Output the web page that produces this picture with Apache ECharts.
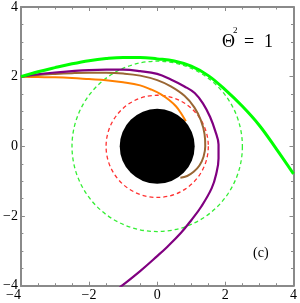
<!DOCTYPE html>
<html><head><meta charset="utf-8">
<script src="https://cdn.jsdelivr.net/npm/echarts@6/dist/echarts.min.js"></script>
<style>html,body{margin:0;padding:0;background:#fff}#c{width:300px;height:303px}</style>
</head><body><div id="c"></div>
<script>
// Axis ticks
const xTicks = [-4, -2, 0, 2, 4];
const yTicks = [-4, -2, 0, 2, 4];
// Circles: [cx, cy, radius]
const diskCircle = [[0, 0, 1.1]];
const photonCircle = [[0, 0, 1.5]];
const outerCircle = [[0, 0, 2.5]];
// Trajectories [x, y]
const greenPath = [[-4,2.0],[-3.5,2.14],[-3,2.26],[-2.5,2.37],[-2,2.46],[-1.5,2.52],[-1,2.55],[-0.5,2.55],[0,2.51],[0.5,2.45],[1,2.3],[1.5,2.03],[2,1.62],[2.5,1.15],[3,0.6],[3.5,-0.08],[4,-0.79]];
const purplePath = [[-4,2],[-3.5,2.07],[-3,2.12],[-2.5,2.16],[-2,2.19],[-1.5,2.2],[-1,2.2],[-0.5,2.16],[0,2.08],[0.4,1.92],[0.8,1.72],[1.1,1.53],[1.35,1.22],[1.55,0.85],[1.7,0.45],[1.8,0.05],[1.8,-0.35],[1.73,-0.8],[1.6,-1.2],[1.3,-1.72],[1.0,-2.12],[0.7,-2.48],[0.3,-2.88],[0,-3.15],[-0.5,-3.58],[-1.1,-4.05]];
const brownPath = [[-4,2],[-3.5,2.05],[-3,2.08],[-2.5,2.1],[-2,2.11],[-1.5,2.11],[-1,2.09],[-0.5,2.03],[0,1.9],[0.4,1.72],[0.8,1.45],[1.09,1.12],[1.28,0.75],[1.39,0.35],[1.41,0.0],[1.36,-0.3],[1.24,-0.55],[1.07,-0.73],[0.88,-0.85],[0.68,-0.9]];
const orangePath = [[-4,2],[-3.5,1.99],[-3,1.98],[-2.5,1.96],[-2,1.93],[-1.5,1.9],[-1,1.84],[-0.5,1.75],[-0.2,1.64],[0.1,1.5],[0.35,1.33],[0.55,1.15],[0.7,0.95],[0.84,0.72]];

const serif = '"Liberation Serif", "DejaVu Serif", serif';
const frame = '#8a8a8a';

function circleRenderer(fill, stroke, dash) {
  return function (params, api) {
    const c = api.coord([api.value(0), api.value(1)]);
    const r = api.size([api.value(2), 0])[0];
    return {
      type: 'circle',
      shape: { cx: c[0], cy: c[1], r: r },
      style: fill ? { fill: fill } : { fill: 'none', stroke: stroke, lineWidth: 1.3, lineDash: dash }
    };
  };
}

function mkAxis(pos, show) {
  return {
    type: 'value', min: -4, max: 4, interval: 2, position: pos,
    axisLine: { show: true, onZero: false, lineStyle: { color: frame, width: 2 } },
    axisTick: { show: true, inside: true, length: 4, lineStyle: { color: frame, width: 1 } },
    minorTick: { show: true, splitNumber: 4, length: 2.5, lineStyle: { color: frame, width: 1 } },
    splitLine: { show: false },
    axisLabel: show ? {
      show: true, margin: 3, color: '#000', fontFamily: serif, fontSize: 14,
      formatter: v => (v < 0 ? '\u2212' + Math.abs(v) : String(v))
    } : { show: false }
  };
}

const chart = echarts.init(document.getElementById('c'), null, { renderer: 'canvas' });
const xb = mkAxis('bottom', true); xb.axisLabel.alignMinLabel = 'right';
const yl = mkAxis('left', true);
chart.setOption({
  animation: false,
  grid: { left: 17, right: 3.3, top: 5, bottom: 17.3, containLabel: false },
  xAxis: [xb, mkAxis('top', false)],
  yAxis: [yl, mkAxis('right', false)],
  series: [
    { type: 'custom', data: photonCircle, renderItem: circleRenderer(null, '#ff3030', [4, 3]), z: 2 },
    { type: 'custom', data: outerCircle, renderItem: circleRenderer(null, '#33ee33', [4, 3]), z: 2 },
    { type: 'line', data: orangePath, smooth: 0.4, showSymbol: false, lineStyle: { color: '#ff8000', width: 2 }, z: 3 },
    { type: 'line', data: brownPath, smooth: 0.4, showSymbol: false, lineStyle: { color: '#996633', width: 2 }, z: 3 },
    { type: 'line', data: purplePath, smooth: 0.4, showSymbol: false, lineStyle: { color: '#800080', width: 2.2 }, z: 3 },
    { type: 'line', data: greenPath, smooth: 0.4, showSymbol: false, lineStyle: { color: '#00ff00', width: 3 }, z: 3 },
    { type: 'custom', data: diskCircle, renderItem: circleRenderer('#000'), z: 4 }
  ],
  graphic: [
    { type: 'text', left: 222, top: 33, style: { text: '\u0398', font: '18px ' + serif, fill: '#000' } },
    { type: 'text', left: 233, top: 26, style: { text: '2', font: '9px ' + serif, fill: '#000' } },
    { type: 'text', left: 244, top: 33, style: { text: '=', font: '18px ' + serif, fill: '#000' } },
    { type: 'text', left: 264, top: 33, style: { text: '1', font: '18px ' + serif, fill: '#000' } },
    { type: 'text', left: 253, top: 246, style: { text: '(c)', font: '14px ' + serif, fill: '#000' } }
  ]
});
</script></body></html>
